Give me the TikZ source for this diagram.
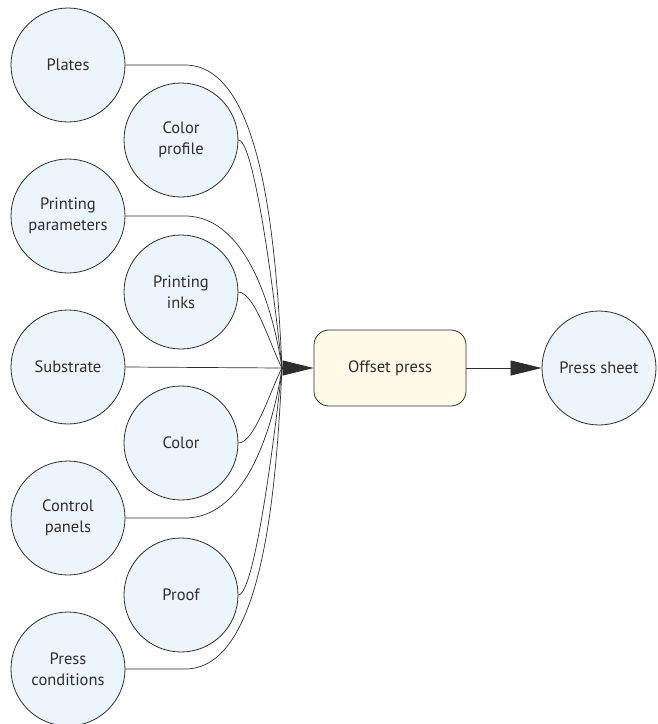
\documentclass[tikz,border=0pt]{standalone}
\usepackage{fontspec}
\setmainfont{PT Sans}
\usetikzlibrary{arrows.meta}
\definecolor{inkgray}{RGB}{45,45,45}
\definecolor{bubble}{RGB}{237,245,252}
\definecolor{pressbox}{RGB}{255,251,232}
\tikzset{
  res/.style={circle, draw=inkgray, line width=0.8pt, fill=bubble,
    minimum size=114pt, inner sep=0pt, align=center, text=inkgray,
    font=\fontsize{16.5}{21}\selectfont},
  proc/.style={rectangle, rounded corners=15pt, draw=inkgray, line width=0.8pt,
    fill=pressbox, minimum width=152pt, minimum height=76pt, text=inkgray,
    font=\fontsize{16.5}{21}\selectfont},
  feed/.style={draw=inkgray, line width=0.7pt},
  flow/.style={draw=inkgray, line width=0.7pt,
    -{Triangle[length=31pt,width=15pt]}}
}
\begin{document}
\begin{tikzpicture}[x=1pt, y=-1pt]
\useasboundingbox (0,0) rectangle (658,724);

% input resources, outer column
\node[res] (plates)   at (68,65)  {Plates};
\node[res] (params)   at (68,216) {Printing\\parameters};
\node[res] (subst)    at (68,367) {Substrate};
\node[res] (panels)   at (68,518) {Control\\panels};
\node[res] (conds)    at (68,669) {Press\\conditions};

% input resources, inner column
\node[res] (profile)  at (181,140) {Color\\profile};
\node[res] (inks)     at (181,292) {Printing\\inks};
\node[res] (color)    at (181,443) {Color};
\node[res] (proof)    at (181,595) {Proof};

% process and output
\node[proc] (press) at (390,368) {Offset press};
\node[res]  (sheet) at (599,368) {Press sheet};

\coordinate (hub) at (282,368);

% bundled feeds into the press
\draw[feed] (plates.east) -- (185,65)
  .. controls (262,65) and (276,240) .. (hub);
\draw[feed] (profile.east)
  .. controls (255,140) and (276,310) .. (hub);
\draw[feed] (params.east) -- (185,216)
  .. controls (250,216) and (275,320) .. (hub);
\draw[feed] (inks.east)
  .. controls (255,292) and (272,350) .. (hub);
\draw[feed] (subst.east) -- (hub);
\draw[feed] (color.east)
  .. controls (255,443) and (272,386) .. (hub);
\draw[feed] (panels.east) -- (185,518)
  .. controls (250,518) and (275,416) .. (hub);
\draw[feed] (proof.east)
  .. controls (255,595) and (276,426) .. (hub);
\draw[feed] (conds.east) -- (185,669)
  .. controls (262,669) and (276,496) .. (hub);

\draw[flow] (hub) -- (press.west);
\draw[flow] (press.east) -- (sheet.west);
\end{tikzpicture}
\end{document}
